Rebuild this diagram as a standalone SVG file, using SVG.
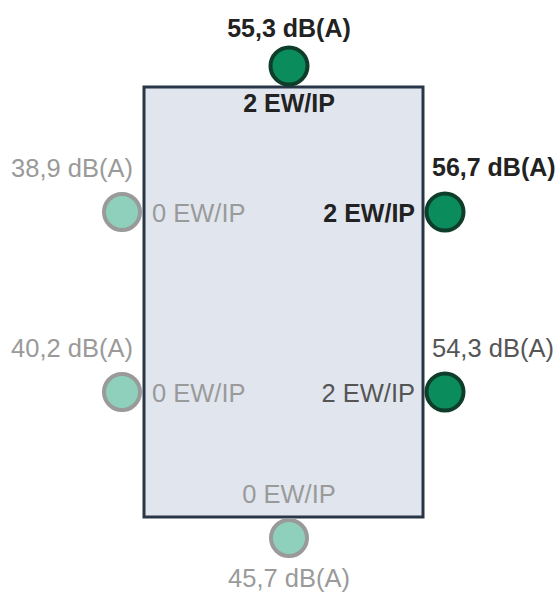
<svg xmlns="http://www.w3.org/2000/svg" width="560" height="592" viewBox="0 0 560 592">
<style>
text{font-family:"Liberation Sans",Arial,sans-serif;font-size:25.5px}
.b{font-weight:bold;fill:#222;font-size:25px}
.g{fill:#9a9a9a}
.m{fill:#555}
.on{fill:#0a8c5c;stroke:#0f3d2b;stroke-width:4}
.off{fill:#8fd0bc;stroke:#9a9a9a;stroke-width:4}
</style>
<rect width="560" height="592" fill="#fff"/>
<g id="building">
<rect x="144" y="87" width="279" height="430" fill="#e1e6ee" stroke="#283647" stroke-width="3"/>
</g>
<g id="connectors"></g>
<g id="n-top">
<circle class="on" cx="289" cy="66" r="18.5"/>
<text class="b" x="289" y="37" text-anchor="middle">55,3 dB(A)</text>
<text class="b" x="289" y="112" text-anchor="middle">2 EW/IP</text>
</g>
<g id="n-left-upper">
<circle class="off" cx="122" cy="212" r="18"/>
<text class="g" x="133" y="177" text-anchor="end">38,9 dB(A)</text>
<text class="g" x="152" y="222">0 EW/IP</text>
</g>
<g id="n-right-upper">
<circle class="on" cx="445" cy="212" r="18.5"/>
<text class="b" x="432" y="176">56,7 dB(A)</text>
<text class="b" x="415" y="222" text-anchor="end">2 EW/IP</text>
</g>
<g id="n-left-lower">
<circle class="off" cx="122" cy="392" r="18"/>
<text class="g" x="133" y="357" text-anchor="end">40,2 dB(A)</text>
<text class="g" x="152" y="402">0 EW/IP</text>
</g>
<g id="n-right-lower">
<circle class="on" cx="445" cy="392" r="18.5"/>
<text class="m" x="432" y="357">54,3 dB(A)</text>
<text class="m" x="415" y="402" text-anchor="end">2 EW/IP</text>
</g>
<g id="n-bottom">
<circle class="off" cx="289" cy="538" r="18"/>
<text class="g" x="289" y="503" text-anchor="middle">0 EW/IP</text>
<text class="g" x="289" y="587" text-anchor="middle">45,7 dB(A)</text>
</g>
</svg>
